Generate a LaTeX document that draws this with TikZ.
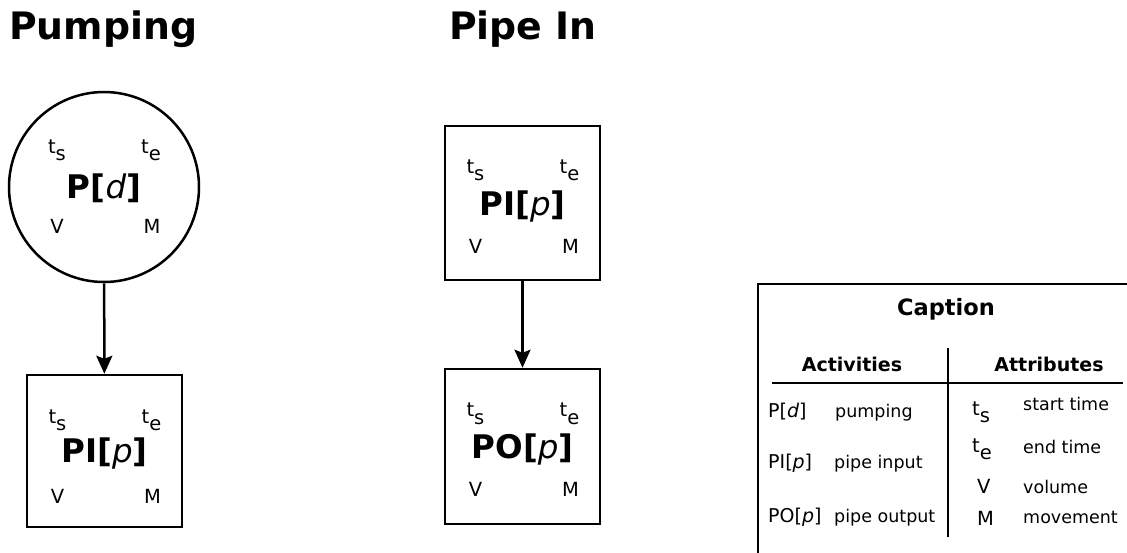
\documentclass[tikz,border=0pt]{standalone}
\usepackage{fontspec}
\setmainfont{DejaVu Sans}
\usetikzlibrary{arrows.meta}
\newcommand\fs[1]{\fontsize{#1}{#1}\selectfont}
\tikzset{
  title/.style={anchor=base west,inner sep=0pt,font=\fs{37.8}\bfseries},
  actbox/.style={draw,line width=2.5pt,minimum width=155pt,minimum height=154pt,inner sep=0pt},
  actcirc/.style={draw,line width=2.5pt,circle,minimum size=190pt,inner sep=0pt},
  mainlab/.style={anchor=base,inner sep=0pt,font=\fs{32.5}},
  attr/.style={anchor=base,inner sep=0pt,font=\fs{19.5}},
  captext/.style={anchor=base west,inner sep=0pt,font=\fs{17.5}},
  capkey/.style={anchor=base west,inner sep=0pt,font=\fs{19}},
  capsym/.style={anchor=base west,inner sep=0pt,font=\fs{19.5}},
  caphead/.style={anchor=base,inner sep=0pt,font=\fs{19}\bfseries},
  flow/.style={line width=2.5pt,-{Stealth[length=18pt,width=16pt,inset=3pt]}},
  rule/.style={line width=2.5pt}
}
\newcommand\sub[1]{\lower7.5pt\hbox{#1}}
% #1 node name, #2 top baseline offset, #3 bottom baseline offset
\newcommand\attrs[3]{%
  \path (#1.center) ++(-47,#2) node[attr] (#1-ts) {t\sub{s}};
  \path (#1.center) ++(47,#2) node[attr] (#1-te) {t\sub{e}};
  \path (#1.center) ++(-47,#3) node[attr] (#1-v) {V};
  \path (#1.center) ++(48,#3) node[attr] (#1-m) {M};
}
\begin{document}
\begin{tikzpicture}[x=1pt,y=-1pt]
\clip (0,0) rectangle (1127,552);
\fill[white] (0,0) rectangle (1127,552);

% titles
\node[title] (t1) at (9,39) {Pumping};
\node[title] (t2) at (449,39) {Pipe In};

% Pumping column
\node[actcirc] (pd) at (104,187) {};
\path (pd.center) ++(0,11) node[mainlab] (pd-l) {\textbf{P[}\textit{d}\textbf{]}};
\attrs{pd}{-34}{46}
\node[actbox,minimum height=152pt] (pi1) at (104.5,451) {};
\path (pi1.center) ++(0,11) node[mainlab] (pi1-l) {\textbf{PI[}\textit{p}\textbf{]}};
\attrs{pi1}{-28}{52}
\draw[flow] (pd) -- (pi1);

% Pipe In column
\node[actbox] (pi2) at (522.5,203) {};
\path (pi2.center) ++(0,12) node[mainlab] (pi2-l) {\textbf{PI[}\textit{p}\textbf{]}};
\attrs{pi2}{-30}{50}
\node[actbox,minimum height=155pt] (po) at (522.5,446.5) {};
\path (po.center) ++(0,12) node[mainlab] (po-l) {\textbf{PO[}\textit{p}\textbf{]}};
\attrs{po}{-30}{50}
\draw[flow] (pi2) -- (po);

% Caption
\draw[rule] (758,600) -- (758,284) -- (1200,284);
\node[anchor=base,inner sep=0pt,font=\fs{22.5}\bfseries] (ct) at (946,315) {Caption};
\node[caphead] (ca) at (852,371) {Activities};
\node[caphead] (cb) at (1049,371) {Attributes};
\draw[rule] (772,383) -- (1123,383);
\draw[rule] (948,348) -- (948,537);

\node[capkey] (k1) at (768,417) {P[\textit{d}]};
\node[captext] (d1) at (835,417) {pumping};
\node[capkey] (k2) at (768,468) {PI[\textit{p}]};
\node[captext] (d2) at (834,468) {pipe input};
\node[capkey] (k3) at (768,522) {PO[\textit{p}]};
\node[captext] (d3) at (834,522) {pipe output};

\node[capsym] (a1) at (972,415) {t\sub{s}};
\node[captext] (e1) at (1023,410) {start time};
\node[capsym] (a2) at (972,452) {t\sub{e}};
\node[captext] (e2) at (1023,453) {end time};
\node[capsym] (a3) at (977,493) {V};
\node[captext] (e3) at (1023,493) {volume};
\node[capsym] (a4) at (977,525) {M};
\node[captext] (e4) at (1023,523) {movement};
\end{tikzpicture}
\end{document}
